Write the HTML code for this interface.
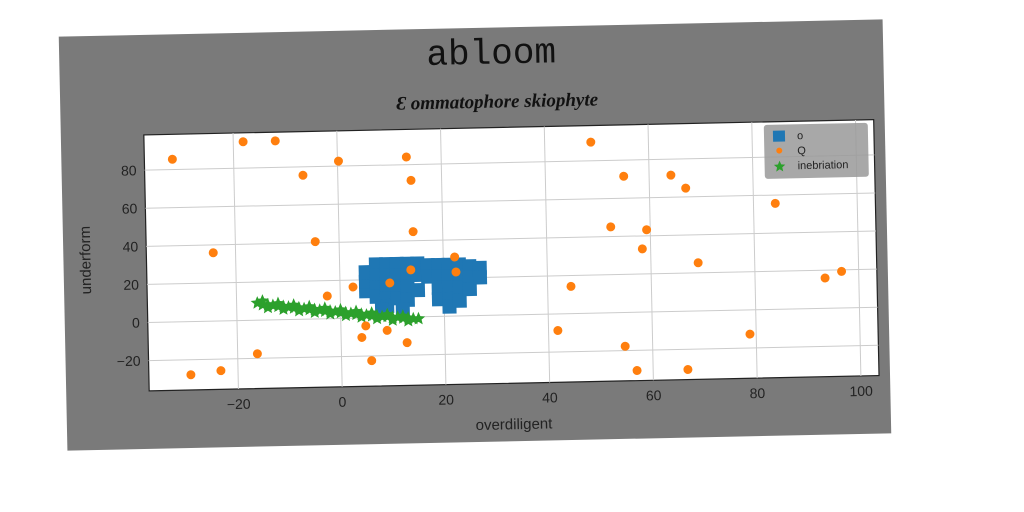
<!DOCTYPE html>
<html><head><meta charset="utf-8"><style>
body{margin:0;width:1024px;height:512px;background:#fff;overflow:hidden;position:relative;font-family:"Liberation Sans",sans-serif}
#panel{position:absolute;left:63px;top:28px;width:824px;height:414px;background:#7a7a7a;transform:rotate(-1.2deg);transform-origin:50% 50%}
#title{position:absolute;left:0;width:864px;text-align:center;top:6px;font:36px "Liberation Mono",monospace;color:#111}
#sub{position:absolute;left:0;width:874px;text-align:center;top:64px;font:italic bold 19px "Liberation Serif",serif;color:#111}
svg text{font-family:"Liberation Sans",sans-serif}
</style></head><body>
<div id="panel">
<div id="title">abloom</div>
<div id="sub">Ɛ ommatophore skiophyte</div>
<svg id="chart" width="824" height="414" style="position:absolute;left:0;top:0"></svg>
</div>
<script>
const xTicks=[-20,0,20,40,60,80,100];
const yTicks=[-20,0,20,40,60,80];
const orangeX=[-31.8,-18.1,-11.9,-6.7,0.2,13.3,14.1,14.3,-4.6,-24.3,-2.5,2.5,9.6,13.7,22.2,22.4,4.8,4.0,8.9,12.7,5.8,-16.2,-23.3,-29.1,48.9,55.1,64.2,67,52.4,59.3,58.4,69.1,84.2,96.7,93.5,44.5,41.8,54.7,56.9,66.7,78.8];
const orangeY=[85.4,93.8,93.9,75.6,82.6,84,71.7,44.8,40.6,35.9,11.9,16.4,18.1,24.7,31,23.1,-4.2,-10.2,-6.8,-13.4,-22.5,-17.6,-26.1,-27.9,89.8,71.5,71.6,64.6,45.1,43.2,33.2,25.3,55.6,19.2,15.9,14.3,-8.7,-17.7,-30.6,-30.6,-12.7];
const blueX=[5,5,5,7,7,7,7,9,9,9,9,9,11,11,11,11,13,13,13,13,15,15,15,17,17,19,19,19,19,21,21,21,21,21,23,23,23,23,25,25,25,27,27,12,8];
const blueY=[14,19,24,28,22,16,11,28,22,16,10,6,28,22,16,10,28,22,16,9,28,22,14,27,21,27,21,15,9,27,21,15,9,5,27,21,15,8,26,20,14,25,20,4,4];
const greenX=[-16,-15,-14,-13,-12,-11,-10,-9,-8,-7,-6,-5,-4,-3,-2,-1,0,1,2,3,4,5,6,7,8,9,10,11,12,13,14,15,-15,-12,-9,-6,-3,0,3,6,9,12,-14,-11,-8,-5,-2,1,4,7,10,13];
const greenY=[9,8,8,7.5,7,7,6.5,6,6,5.5,5,5,4.5,4,4,3.5,3,3,2.5,2,2,1.5,1,1,0.5,0.5,0,0,-0.5,-0.5,-1,-1,10,8.5,7.5,6.5,5.5,4.5,3.5,2.5,1.5,0.5,6.5,5.5,4.5,3.5,2.5,1.5,0.5,-0.5,-1.5,-2];
const L=83,T=100,W=730,H=256,xmin=-37.2,xmax=103.5,ymin=-35.9,ymax=98.5;
const sx=v=>L+(v-xmin)/(xmax-xmin)*W, sy=v=>T+(ymax-v)/(ymax-ymin)*H;
const svg=document.getElementById('chart');const NS='http://www.w3.org/2000/svg';
function mk(t,a,p){const e=document.createElementNS(NS,t);for(const k in a)e.setAttribute(k,a[k]);(p||svg).appendChild(e);return e;}
const bg=mk('rect',{x:L,y:T,width:W,height:H,fill:'#fff',stroke:'#222','stroke-width':1.2});


xTicks.forEach(v=>{const g=mk('line',{x1:sx(v),x2:sx(v),y1:T,y2:T+H,stroke:'#ccc'});


const t=mk('text',{x:sx(v),y:T+H+20,'text-anchor':'middle','font-size':14,fill:'#222'});t.textContent=v<0?'−'+(-v):v;

});
yTicks.forEach(v=>{const g=mk('line',{x1:L,x2:L+W,y1:sy(v),y2:sy(v),stroke:'#ccc'});


const t=mk('text',{x:L-8,y:sy(v)+5,'text-anchor':'end','font-size':14,fill:'#222'});t.textContent=v<0?'−'+(-v):v;

});
blueX.forEach((v,i)=>{const r=mk('rect',{x:sx(v)-7,y:sy(blueY[i])-7,width:14,height:14,fill:'#1f77b4'});

});
function star(cx,cy,r){let p=[];for(let k=0;k<10;k++){const a=-Math.PI/2+k*Math.PI/5,rr=k%2?r*0.45:r;p.push((cx+rr*Math.cos(a)).toFixed(1)+','+(cy+rr*Math.sin(a)).toFixed(1));}return p.join(' ');}
greenX.forEach((v,i)=>{const s=mk('polygon',{points:star(sx(v),sy(greenY[i]),7),fill:'#2ca02c'});

});
orangeX.forEach((v,i)=>{const c=mk('circle',{cx:sx(v),cy:sy(orangeY[i]),r:4.5,fill:'#ff7f0e'});

});
const xl=mk('text',{x:447,y:402,'text-anchor':'middle','font-size':15,fill:'#222'});xl.textContent='overdiligent';


const yl=mk('text',{x:27,y:224,'text-anchor':'middle','font-size':15,fill:'#222',transform:'rotate(-90 27 224)'});yl.textContent='underform';


const lg=mk('g',{});


mk('rect',{x:703,y:103,width:104,height:54,rx:3,fill:'#999',opacity:0.85},lg);
mk('rect',{x:712,y:109,width:12,height:11,fill:'#1f77b4'},lg);
mk('circle',{cx:718,cy:129,r:3,fill:'#ff7f0e'},lg);
mk('polygon',{points:star(718,145,6),fill:'#2ca02c'},lg);
[['o',118],['Q',133],['inebriation',148]].forEach(d=>{const t=mk('text',{x:736,y:d[1],'font-size':11,fill:'#222'},lg);t.textContent=d[0];

});
</script>
</body></html>
